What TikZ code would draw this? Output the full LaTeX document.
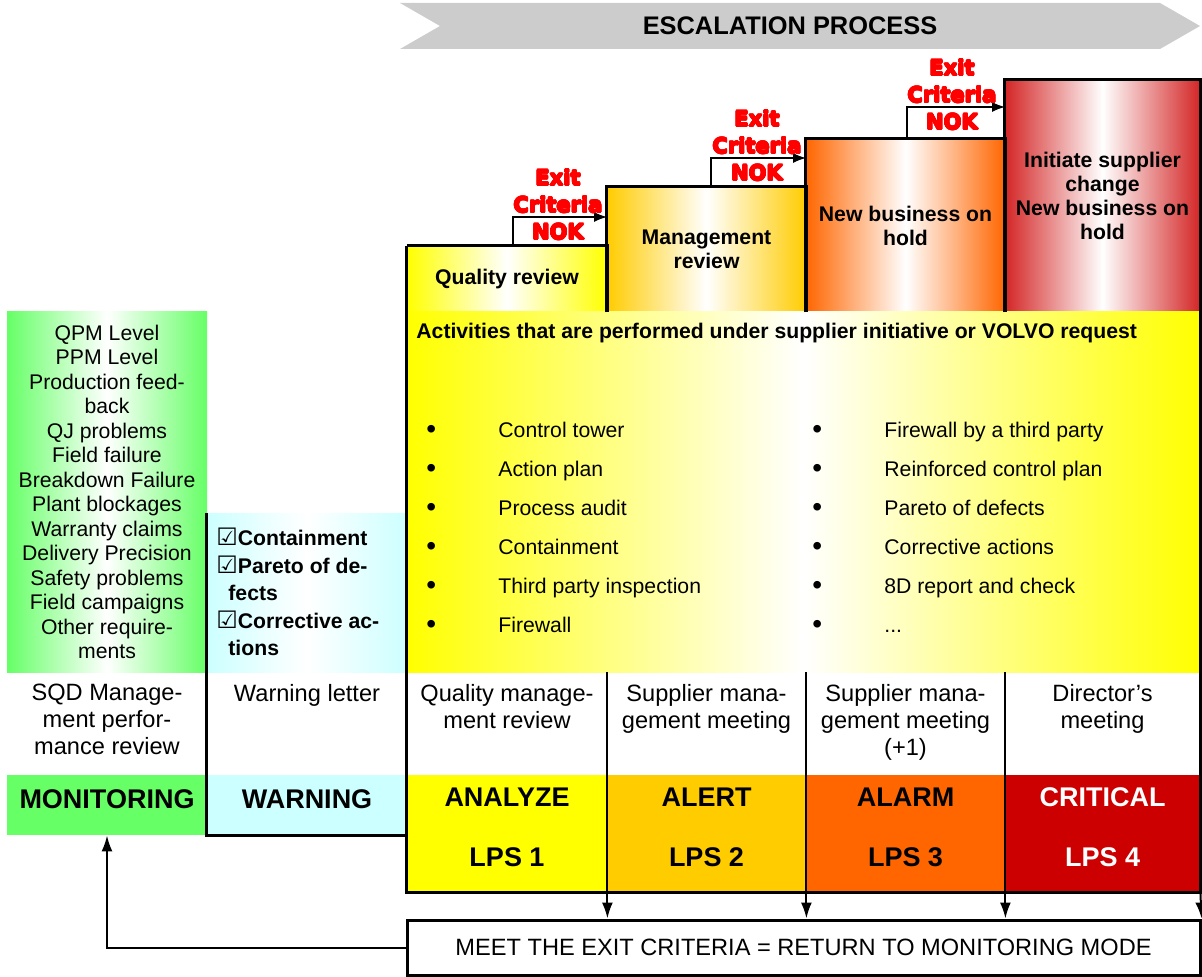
\documentclass[tikz,border=0pt]{standalone}
\usepackage{fontspec}
\setmainfont{Liberation Sans}
\newfontfamily\heavyfont{DejaVu Sans}
\usepackage{tikz}
\usetikzlibrary{arrows.meta}
\usepackage{xcolor}
\usepackage{contour}
\contourlength{0.3pt}
\definecolor{monigreen}{HTML}{66FF66}
\definecolor{warncyan}{HTML}{CCFFFF}
\definecolor{analyzeyellow}{HTML}{FFFF00}
\definecolor{alertorange}{HTML}{FFCC00}
\definecolor{alarmorange}{HTML}{FF6600}
\definecolor{criticalred}{HTML}{CC0000}
\definecolor{titlegray}{HTML}{CCCCCC}
\definecolor{nokred}{HTML}{FF0000}
\newcommand{\chkbox}{{\heavyfont\mdseries\fontsize{12}{12}\selectfont ☑}}
\newcommand{\actitem}[1]{\makebox[36pt][l]{\raisebox{-0.6pt}{\fontsize{14}{14}\selectfont\textbullet}}#1}
\newcommand{\nok}[1]{\contour{nokred}{#1}}

\begin{document}
\begin{tikzpicture}[x=0.5pt, y=-0.5pt,
  frame/.style={line width=1.5pt},
  divider/.style={line width=1pt},
  fadefill/.style={left color=#1, right color=#1, middle color=white},
  stepbox/.style={inner sep=0pt, align=center, font=\bfseries\fontsize{10.6}{12}\selectfont},
  listtext/.style={inner sep=0pt, align=left, font=\fontsize{10.6}{19.5}\selectfont},
  rowtext/.style={inner sep=0pt, anchor=north, align=center, font=\fontsize{11.8}{13.5}\selectfont},
  statebox/.style={inner sep=0pt, align=center, text depth=6pt, font=\bfseries\fontsize{13.5}{16}\selectfont},
  noktext/.style={inner sep=0pt, align=center, text=nokred, font=\heavyfont\bfseries\fontsize{10.5}{13.5}\selectfont},
  nokarrow/.style={line width=0.6pt, -{Latex[length=6.5pt,width=5pt]}},
  downarrow/.style={divider, -{Latex[length=8pt,width=5.5pt]}}]

  % page frame
  \useasboundingbox (0,0) rectangle (1202,977);

  % title banner
  \fill[titlegray] (400,3) -- (1160,3) -- (1200,26) -- (1160,49) -- (400,49) -- (440,26) -- cycle;
  \node[font=\bfseries\fontsize{12.7}{14}\selectfont] (title) at (790,26) {ESCALATION PROCESS};

  % escalation steps
  \node[stepbox, fadefill=analyzeyellow, minimum width=100pt, minimum height=33pt] (qrev) at (507,279) {Quality review};
  \node[stepbox, fadefill=alertorange, minimum width=99.5pt, minimum height=62.5pt] (mrev) at (706.5,249.5) {Management\\review};
  \node[stepbox, fadefill=alarmorange, minimum width=99.5pt, minimum height=86.5pt] (hold) at (905.5,225.5) {New business on\\hold};
  \node[stepbox, fadefill=criticalred!85!white, minimum width=97.5pt, minimum height=116pt] (change) at (1102.5,196) {Initiate supplier\\change\\New business on\\hold};

  % activities area
  \node[inner sep=0pt, fadefill=analyzeyellow, minimum width=396.5pt, minimum height=180pt] (acts) at (803.5,492) {};
  \node[anchor=west, inner sep=0pt, font=\bfseries\fontsize{10.6}{12}\selectfont] (actshead) at (416,333) {Activities that are performed under supplier initiative or VOLVO request};
  \node[listtext, anchor=north west] (actsleft) at (426,422) {\actitem{Control tower}\\\actitem{Action plan}\\\actitem{Process audit}\\\actitem{Containment}\\\actitem{Third party inspection}\\\actitem{Firewall}};
  \node[listtext, anchor=north west] (actsright) at (812,422) {\actitem{Firewall by a third party}\\\actitem{Reinforced control plan}\\\actitem{Pareto of defects}\\\actitem{Corrective actions}\\\actitem{8D report and check}\\\actitem{...}};

  % monitoring indicators
  \node[inner sep=0pt, fadefill=monigreen, minimum width=100pt, minimum height=180pt, align=center, font=\fontsize{10.6}{12.25}\selectfont] (kpis) at (107,492) {QPM Level\\PPM Level\\Production feed-\\back\\QJ problems\\Field failure\\Breakdown Failure\\Plant blockages\\Warranty claims\\Delivery Precision\\Safety problems\\Field campaigns\\Other require-\\ments};

  % warning checks
  \node[inner sep=0pt, fadefill=warncyan, minimum width=100pt, minimum height=79.5pt] (checks) at (307,592.5) {};
  \node[anchor=west, inner sep=0pt, align=left, font=\bfseries\fontsize{10.6}{13.75}\selectfont] (checklist) at (216,592) {\chkbox Containment\\\chkbox Pareto of de-\\\hspace{6pt}fects\\\chkbox Corrective ac-\\\hspace{6pt}tions};

  % meetings
  \node[rowtext] (sqd) at (107,684) {SQD Manage-\\ment perfor-\\mance review};
  \node[rowtext] (wletter) at (307,684) {Warning letter};
  \node[rowtext] (qmr) at (507,684) {Quality manage-\\ment review};
  \node[rowtext] (smm) at (706.5,684) {Supplier mana-\\gement meeting};
  \node[rowtext] (smmp) at (905.5,684) {Supplier mana-\\gement meeting\\(+1)};
  \node[rowtext] (dirm) at (1102.5,684) {Director’s\\meeting};

  % levels
  \node[statebox, fill=monigreen, minimum width=100pt, minimum height=30pt] (mon) at (107,805) {MONITORING};
  \node[statebox, fill=warncyan, minimum width=100pt, minimum height=30pt] (warn) at (307,805) {WARNING};
  \node[statebox, fill=analyzeyellow, minimum width=100pt, minimum height=58.5pt] (an) at (507,833.5) {ANALYZE\\[14pt]LPS 1};
  \node[statebox, fill=alertorange, minimum width=99.5pt, minimum height=58.5pt] (al) at (706.5,833.5) {ALERT\\[14pt]LPS 2};
  \node[statebox, fill=alarmorange, minimum width=99.5pt, minimum height=58.5pt] (alm) at (905.5,833.5) {ALARM\\[14pt]LPS 3};
  \node[statebox, fill=criticalred, text=white, minimum width=97.5pt, minimum height=58.5pt] (crit) at (1102.5,833.5) {CRITICAL\\[14pt]LPS 4};

  % exit box
  \node[draw, frame, minimum width=396.5pt, minimum height=27.5pt, font=\fontsize{11.8}{14}\selectfont] (exitbox) at (803.5,947.5) {MEET THE EXIT CRITERIA = RETURN TO MONITORING MODE};

  % borders
  \draw[frame] (qrev.north west) -- (an.south west) -- (crit.south east) -- (change.north east);
  \draw[frame] (qrev.north west) -- (qrev.north east) -- (qrev.south east);
  \draw[frame] (mrev.south west) |- (mrev.north east) -- (mrev.south east);
  \draw[frame] (hold.south west) |- (hold.north east) -- (hold.south east);
  \draw[frame] (change.south west) |- (change.north east) -- (change.south east);
  \draw[frame] (checks.north west) -- (warn.south west) -- (warn.south east);

  % exit criteria NOK
  \coordinate (nok1) at (513,246);
  \coordinate (nok1end) at (607,217);
  \coordinate (nok2) at (711,187);
  \coordinate (nok2end) at (806,158);
  \coordinate (nok3) at (907,139);
  \coordinate (nok3end) at (1005,107);
  \draw[nokarrow] (nok1) |- (nok1end);
  \draw[nokarrow] (nok2) |- (nok2end);
  \draw[nokarrow] (nok3) |- (nok3end);
  \node[noktext] (nok1text) at (558,205) {\nok{Exit}\\\nok{Criteria}\\\nok{NOK}};
  \node[noktext] (nok2text) at (757,146) {\nok{Exit}\\\nok{Criteria}\\\nok{NOK}};
  \node[noktext] (nok3text) at (952,95) {\nok{Exit}\\\nok{Criteria}\\\nok{NOK}};

  % exit arrows
  \draw[downarrow] (acts.south -| an.east) -- (exitbox.north -| an.east);
  \draw[downarrow] (acts.south -| al.east) -- (exitbox.north -| al.east);
  \draw[downarrow] (acts.south -| alm.east) -- (exitbox.north -| alm.east);
  \draw[downarrow] (crit.south east) -- (exitbox.north east);

  % back to monitoring
  \draw[downarrow] (exitbox.west) -| (mon.south);

\end{tikzpicture}
\end{document}
